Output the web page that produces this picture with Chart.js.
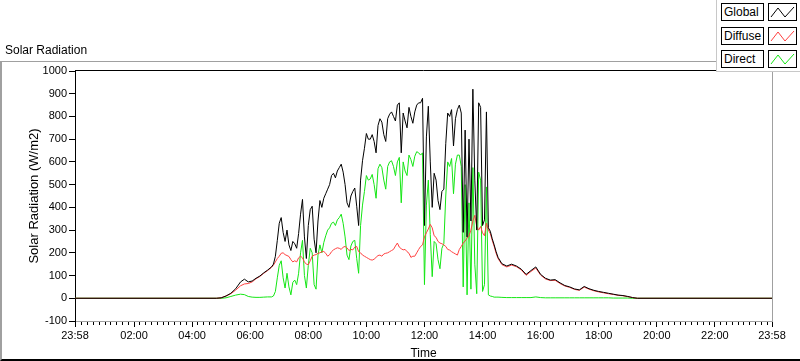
<!DOCTYPE html>
<html>
<head>
<meta charset="utf-8">
<title>Solar Radiation</title>
<script src="https://cdn.jsdelivr.net/npm/chart.js@4.4.1/dist/chart.umd.min.js"></script>
<style>
    html, body { margin: 0; padding: 0; background: #fff; }
    body { width: 800px; height: 361px; position: relative; overflow: hidden; font-family: 'Liberation Sans', Arial, sans-serif; color: #000; }
    #frame { position: absolute; left: 0; top: 61px; width: 798px; height: 297px; border-top: 1px solid #a0a0a0; border-left: 2px solid #a0a0a0; border-bottom: 2px solid #000; }
    #chart { position: absolute; left: 0; top: 0; }
    #title { position: absolute; left: 5px; top: 43px; font-size: 12px; line-height: 14px; }
    #legend { position: absolute; left: 716px; top: 0; width: 84px; height: 72px; box-sizing: border-box; background: #fff; border-left: 1px solid #c8c8c8; border-bottom: 1px solid #c8c8c8; }
    .legend-name { position: absolute; left: 4px; width: 43px; height: 18px; box-sizing: border-box; border: 1px solid #000; font-size: 12px; line-height: 16px; padding-left: 2px; }
    .legend-line { position: absolute; left: 51px; width: 29px; height: 18px; box-sizing: border-box; border: 1px solid #000; }
</style>
</head>
<body>
<div id="frame"></div>
<canvas id="chart" width="800" height="361"></canvas>
<div id="title">Solar Radiation</div>
<div id="legend"></div>

<script>
// minutes after midnight, 23:58 of the day before = -2
var times = [
    -2, 290, 300, 310, 320, 330, 340, 348, 356, 364, 372, 380, 388, 396, 404, 408,
    412, 416, 420, 424, 428, 432, 436, 440, 444, 448,
    452, 456, 460, 464, 468, 472, 476, 480, 484, 488,
    492, 496, 500, 504, 508, 512, 516, 520, 524, 528,
    532, 536, 540, 544, 548, 552, 556, 560, 564, 568,
    572, 576, 580, 584, 588, 592, 596, 600, 604, 608,
    612, 616, 620, 624, 628, 632, 636, 640, 644, 648,
    652, 656, 660, 664, 668, 672, 676, 680, 684, 688,
    692, 696, 700, 704, 708, 712, 716, 720, 724, 728,
    732, 736, 740, 744, 748, 752, 756, 760, 764, 768,
    772, 776, 780, 784, 788, 792, 796, 800, 804, 808,
    812, 816, 820, 824, 828, 832, 836, 840, 844, 848,
    852, 856, 860, 864, 868,
    872, 880, 890, 900, 910, 920, 930, 940, 950, 960,
    970, 980, 990, 1000, 1010, 1020, 1030, 1040, 1050, 1060,
    1070, 1080, 1090, 1100, 1110, 1120, 1130, 1140, 1150, 1160, 1438
];

var globalRad = [
    0, 0, 2, 10, 22, 42, 72, 84, 72, 76, 88, 98, 112, 124, 138, 150,
    185, 255, 330, 355, 290, 250, 300, 235, 210, 250,
    240, 220, 285, 370, 435, 270, 175, 320, 390, 405,
    260, 200, 340, 430, 400, 440, 460, 480, 500, 540,
    550, 530, 560, 575, 590, 555, 500, 420, 400, 450,
    470, 485, 405, 320, 520, 605, 660, 725, 700, 700,
    720, 690, 640, 760, 790, 775, 720, 690, 790, 810,
    820, 800, 780, 850, 860, 640, 815, 780, 750, 840,
    800, 770, 820, 850, 860, 860, 880, 320, 710, 845,
    600, 400, 550, 520, 430, 390, 470, 480, 680, 815,
    800, 830, 670, 790, 830, 850, 815, 290, 740, 270,
    700, 340, 920, 520, 300, 860, 840, 320, 345, 820,
    310, 295, 262, 235, 205,
    180, 152, 142, 150, 142, 128, 105, 122, 138, 105,
    88, 80, 82, 68, 56, 50, 41, 37, 52, 42,
    35, 30, 26, 22, 18, 14, 12, 8, 3, 0, 0
];

var diffuseRad = [
    0, 0, 2, 10, 20, 36, 55, 63, 65, 72, 86, 96, 110, 122, 136, 146,
    160, 175, 185, 198, 200, 192, 188, 184, 170, 160,
    165, 160, 178, 185, 178, 160, 150, 148, 165, 185,
    190, 192, 198, 200, 205, 206, 198, 185, 192, 205,
    213, 218, 222, 220, 215, 225, 228, 222, 210, 215,
    213, 225, 228, 205, 200, 190, 185, 180, 175, 170,
    168, 172, 180, 188, 190, 185, 195, 198, 200, 205,
    210, 215, 230, 243, 225, 218, 213, 215, 205, 198,
    180, 185, 185, 200, 215, 228, 235, 270, 288, 305,
    325, 310, 275, 268, 250, 243, 240, 235, 228, 215,
    212, 205, 200, 195, 190, 215, 228, 243, 252, 265,
    275, 300, 340, 365, 315, 300, 316, 288, 275, 330,
    300, 285, 255, 228, 198,
    175, 148, 138, 146, 139, 125, 101, 118, 133, 102,
    85, 78, 79, 65, 54, 48, 39, 35, 49, 40,
    33, 28, 24, 20, 17, 13, 11, 7, 3, 0, 0
];

var directRad = [
    0, 0, 0, 2, 8, 14, 18, 16, 8, 5, 4, 4, 5, 6, 6, 10,
    30, 90, 145, 165, 90, 45, 110, 50, 15, 70,
    80, 60, 110, 200, 255, 100, 45, 145, 220, 200,
    60, 40, 190, 235, 200, 245, 275, 300, 310, 330,
    335, 320, 345, 355, 370, 330, 270, 190, 170, 230,
    250, 255, 175, 110, 320, 410, 470, 540, 520, 525,
    545, 500, 440, 570, 590, 575, 520, 480, 580, 600,
    605, 580, 540, 600, 620, 420, 600, 560, 540, 630,
    610, 580, 625, 645, 640, 630, 640, 60, 410, 520,
    280, 95, 250, 240, 170, 130, 220, 240, 450, 600,
    580, 615, 460, 590, 630, 630, 580, 50, 500, 15,
    420, 40, 575, 150, 20, 555, 520, 30, 60, 490,
    15, 10, 8, 5, 5,
    5, 4, 3, 3, 3, 3, 3, 3, 6, 3,
    2, 2, 2, 2, 2, 2, 2, 2, 2, 2,
    2, 2, 2, 2, 1, 1, 1, 1, 0, 0, 0
];

var timeTicks = [-2, 120, 240, 360, 480, 600, 720, 840, 960, 1080, 1200, 1320, 1438];
var timeLabels = ['23:58', '02:00', '04:00', '06:00', '08:00', '10:00', '12:00', '14:00', '16:00', '18:00', '20:00', '22:00', '23:58'];

var seriesNames = ['Global', 'Diffuse', 'Direct'];
var seriesColors = ['#000000', '#ff4040', '#14e614'];
var seriesValues = [globalRad, diffuseRad, directRad];

function toPoints(values) {
    return times.map((t, i) => ({ x: t, y: values[i] }));
}

function buildLegend() {
    var legend = document.getElementById('legend');
    seriesNames.forEach((name, i) => {
        var top = 3 + i * 23.5;
        var label = document.createElement('div');
        label.className = 'legend-name';
        label.style.top = top + 'px';
        label.textContent = name;
        legend.appendChild(label);

        var swatch = document.createElement('div');
        swatch.className = 'legend-line';
        swatch.style.top = top + 'px';
        swatch.innerHTML = '<svg width="27" height="16"><polyline points="2,13 9,4 16,13 25,3" fill="none" stroke="' +
            seriesColors[i] + '" stroke-width="1"/></svg>';
        legend.appendChild(swatch);
    });
}

// top and right edges of the plot frame
var plotFrame = {
    id: 'plotFrame',
    afterDraw: function (chart) {
        var a = chart.chartArea;
        var ctx = chart.ctx;
        ctx.save();
        ctx.lineWidth = 1;
        ctx.strokeStyle = '#000';
        ctx.beginPath();
        ctx.moveTo(a.left, Math.round(a.top) - 0.5);
        ctx.lineTo(a.right, Math.round(a.top) - 0.5);
        ctx.stroke();
        ctx.strokeStyle = '#a0a0a0';
        ctx.beginPath();
        ctx.moveTo(Math.round(a.right) + 0.5, a.top);
        ctx.lineTo(Math.round(a.right) + 0.5, a.bottom + 1);
        ctx.stroke();
        ctx.restore();
    }
};

var tickFont = { family: "'Liberation Sans', Arial, sans-serif", size: 11 };
var titleFont = { family: "'Liberation Sans', Arial, sans-serif", size: 12 };

document.addEventListener('DOMContentLoaded', function () {
    buildLegend();

    var ctx = document.getElementById('chart').getContext('2d');
    new Chart(ctx, {
        type: 'line',
        data: {
            datasets: seriesNames.map((name, i) => ({
                label: name,
                data: toPoints(seriesValues[i]),
                borderColor: seriesColors[i],
                borderWidth: 1,
                pointRadius: 0,
                tension: 0,
                fill: false
            }))
        },
        options: {
            responsive: false,
            animation: false,
            layout: { padding: { left: 0, top: 71, right: 28, bottom: 0 } },
            plugins: {
                legend: { display: false },
                tooltip: { enabled: false }
            },
            scales: {
                x: {
                    type: 'linear',
                    min: -2,
                    max: 1438,
                    afterFit: function (scale) { scale.height = 40; },
                    afterBuildTicks: function (scale) {
                        var ticks = [];
                        for (var m = 0; m < 1438; m += 12) {
                            if (m === 0 || m % 120 !== 0) ticks.push({ value: m });
                        }
                        timeTicks.forEach(v => ticks.push({ value: v }));
                        ticks.sort((a, b) => a.value - b.value);
                        scale.ticks = ticks;
                    },
                    border: { color: '#a0a0a0', width: 1 },
                    grid: {
                        drawOnChartArea: false,
                        tickLength: 6,
                        tickColor: '#000',
                        tickBorderDash: function (c) {
                            return timeTicks.indexOf(c.tick.value) >= 0 ? [] : [3, 10];
                        }
                    },
                    ticks: {
                        autoSkip: false,
                        maxRotation: 0,
                        padding: 2,
                        color: '#000',
                        font: tickFont,
                        callback: function (value) {
                            var i = timeTicks.indexOf(value);
                            return i >= 0 ? timeLabels[i] : '';
                        }
                    },
                    title: {
                        display: true,
                        text: 'Time',
                        color: '#000',
                        font: titleFont,
                        padding: { top: 0, bottom: 0 }
                    }
                },
                y: {
                    min: -100,
                    max: 1000,
                    afterFit: function (scale) { scale.width = 75; },
                    border: { color: '#000', width: 1 },
                    grid: {
                        drawOnChartArea: false,
                        tickLength: 6,
                        tickColor: '#000'
                    },
                    ticks: {
                        stepSize: 100,
                        padding: 2,
                        color: '#000',
                        font: tickFont,
                        callback: function (value) { return String(value); }
                    },
                    title: {
                        display: true,
                        text: 'Solar Radiation (W/m2)',
                        color: '#000',
                        font: { family: "'Liberation Sans', Arial, sans-serif", size: 13 },
                        padding: { top: 27, bottom: 0 }
                    }
                }
            }
        },
        plugins: [plotFrame]
    });
});
</script>
</body>
</html>
